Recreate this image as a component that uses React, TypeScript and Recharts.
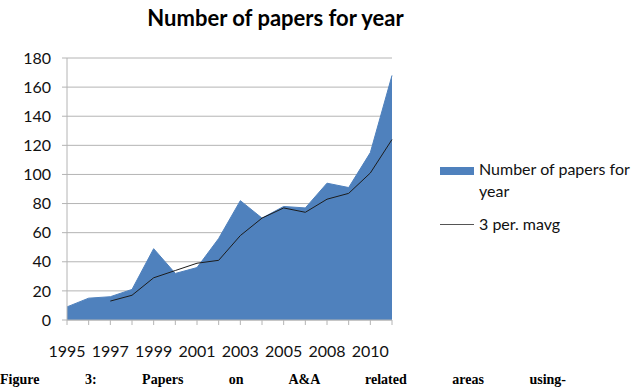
import { ComposedChart, Area, Line, XAxis, YAxis, CartesianGrid } from 'recharts';

const years = ['1995', '1996', '1997', '1998', '1999', '2000', '2001', '2002', '2003', '2004', '2005', '2007', '2008', '2009', '2010', '2011'];
const papers = [9, 15, 16, 21, 49, 32, 36, 56, 82, 70, 78, 77, 94, 91, 115, 168];
const mavg: (number | null)[] = [null, null, 13, 17, 29, 34, 39, 41, 58, 70, 77, 74, 83, 87, 101, 124];
const yTicks = [0, 20, 40, 60, 80, 100, 120, 140, 160, 180];

const data = years.map((year, i) => ({ year, papers: papers[i], mavg: mavg[i] }));

const FONT = 'Lato, "Open Sans", sans-serif';
const GRID = '#b4b4b4';
const BLUE = '#4f81bd';

function XTick(props: any) {
  const { x, y, payload, index } = props;
  if (index % 2 !== 0) return null;
  return (
    <text x={x} y={y + 30} textAnchor="middle" fontFamily={FONT} fontSize={16} fill="#111">
      {payload.value}
    </text>
  );
}

export default function App() {
  return (
    <div style={{ position: 'fixed', left: 0, top: 0, width: 640, height: 389, overflow: 'hidden', background: '#fff' }}>
      <div style={{ position: 'absolute', left: 0, top: 4, width: 551, textAlign: 'center', fontFamily: FONT, fontWeight: 700, fontSize: 22, color: '#000' }}>
        Number of papers for year
      </div>
      <ComposedChart width={640} height={389} data={data} margin={{ top: 58, right: 248, bottom: 0, left: 0 }}>
        <CartesianGrid vertical={false} stroke={GRID} />
        <XAxis
          dataKey="year"
          interval={0}
          tickSize={5}
          height={69}
          tick={<XTick />}
          axisLine={{ stroke: GRID }}
          tickLine={{ stroke: GRID }}
        />
        <YAxis
          domain={[0, 180]}
          ticks={yTicks}
          width={67}
          tickSize={5}
          tickMargin={11}
          axisLine={{ stroke: GRID }}
          tickLine={{ stroke: GRID }}
          tick={{ fontFamily: FONT, fontSize: 16, fill: '#111' }}
        />
        <Area type="linear" dataKey="papers" fill={BLUE} fillOpacity={1} stroke={BLUE} strokeWidth={1} isAnimationActive={false} />
        <Line type="linear" dataKey="mavg" stroke="#1c1c1c" strokeWidth={1} dot={false} isAnimationActive={false} />
      </ComposedChart>
      <div style={{ position: 'absolute', left: 440, top: 167, width: 34, height: 8, background: BLUE }} />
      <div style={{ position: 'absolute', left: 479, top: 158, fontFamily: FONT, fontSize: 16, lineHeight: '22px', color: '#111' }}>
        Number of papers for<br />year
      </div>
      <div style={{ position: 'absolute', left: 440, top: 224, width: 34, height: 1, background: '#555' }} />
      <div style={{ position: 'absolute', left: 479, top: 213, fontFamily: FONT, fontSize: 16, lineHeight: '22px', color: '#111' }}>
        3 per. mavg
      </div>
      <div style={{ position: 'absolute', left: 0, top: 373, width: 566, fontFamily: '"Liberation Serif", serif', fontWeight: 700, fontSize: 14, lineHeight: '14px', textAlign: 'justify', textAlignLast: 'justify', color: '#000' }}>
        Figure 3: Papers on A&amp;A related areas using-
      </div>
    </div>
  );
}
